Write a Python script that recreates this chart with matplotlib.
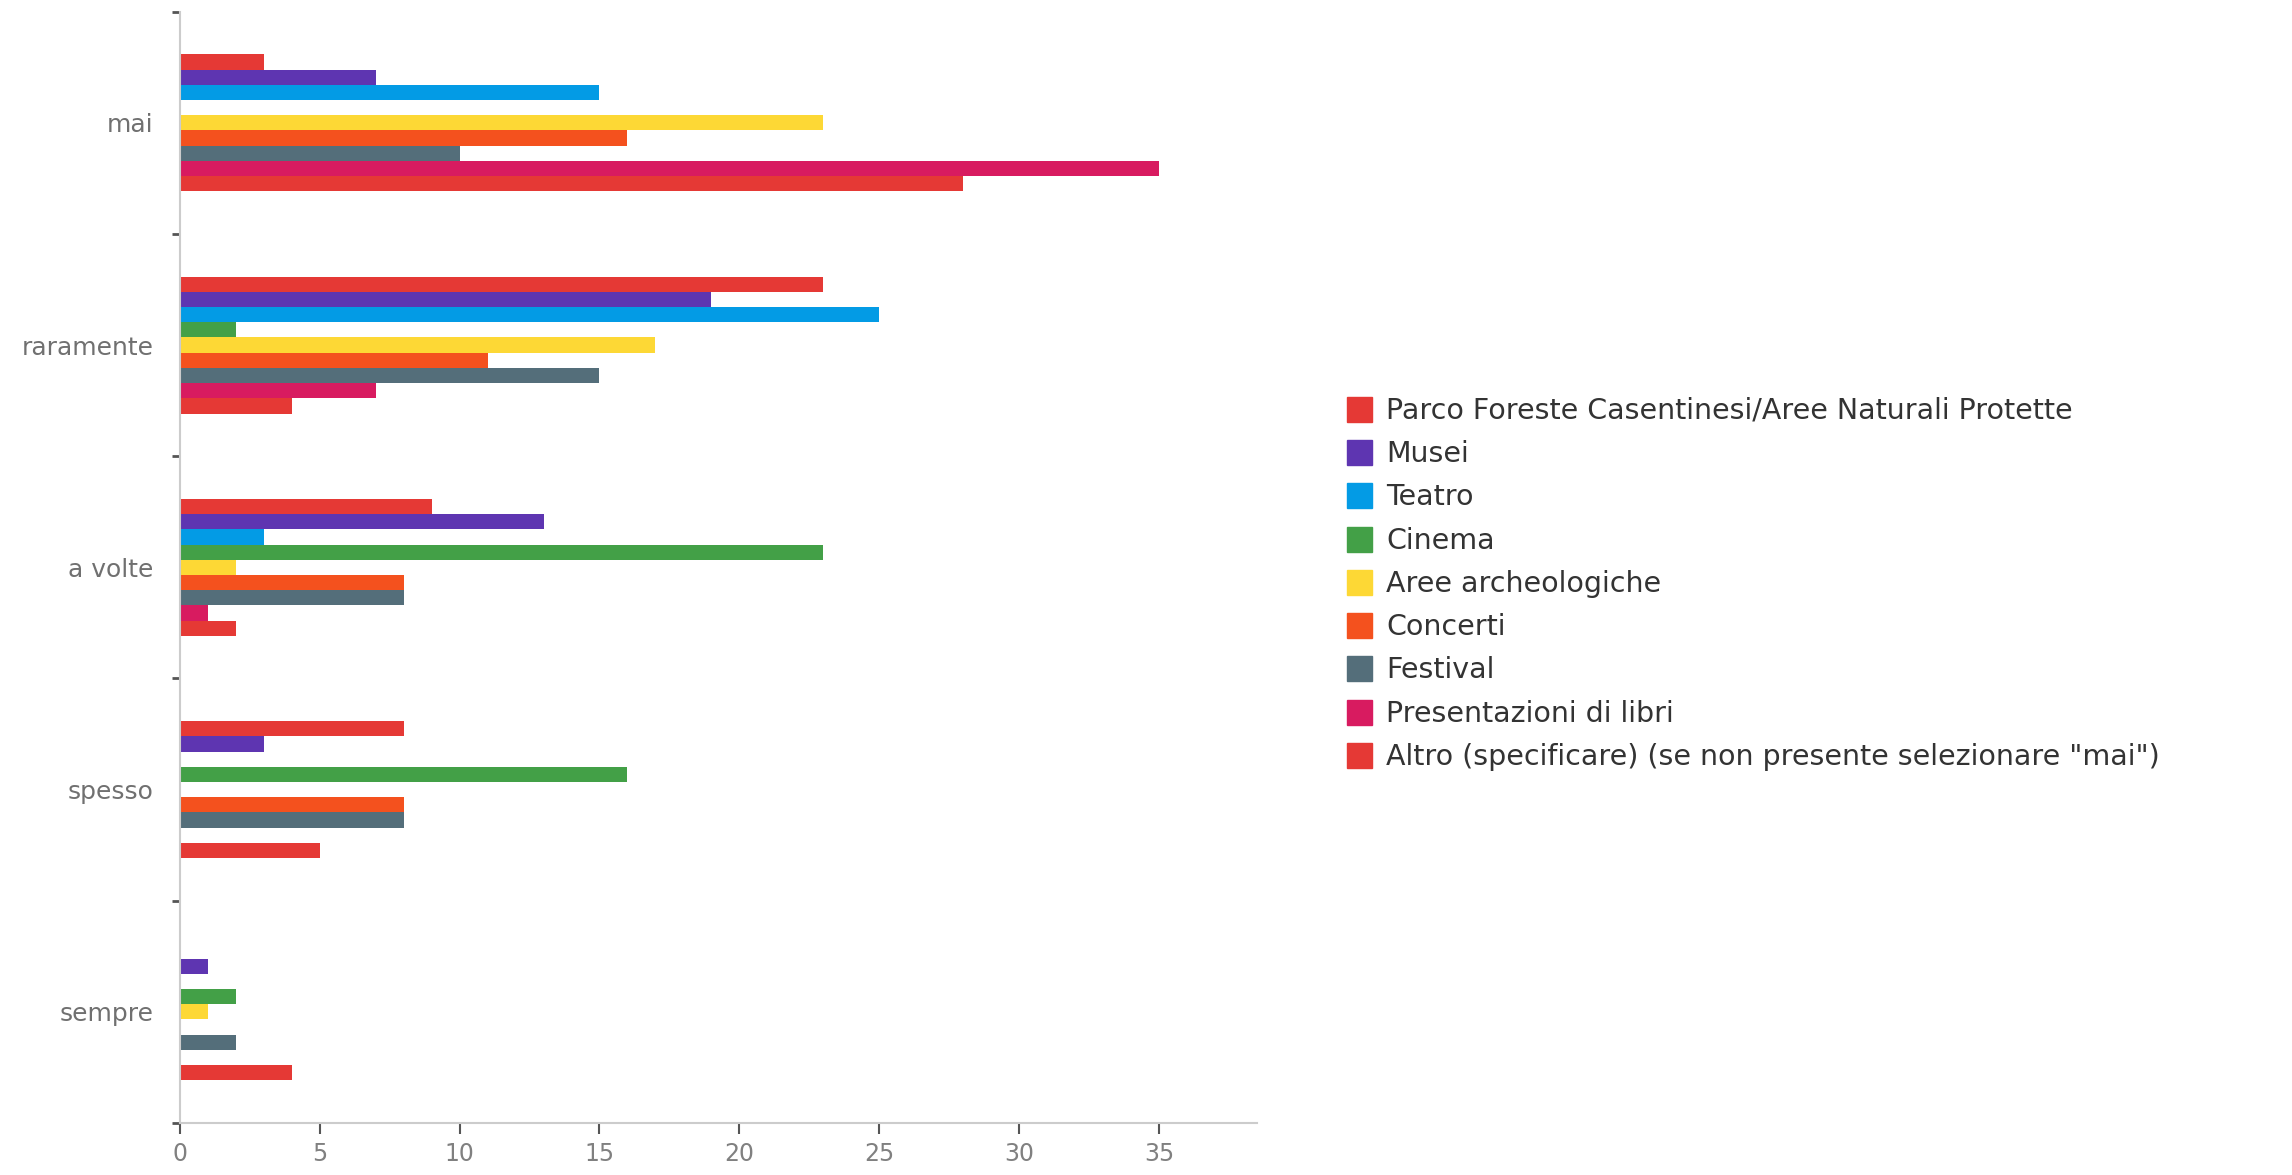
import matplotlib
matplotlib.use("Agg")
import matplotlib.pyplot as plt
import numpy as np
from matplotlib.lines import Line2D

categories = ["mai", "raramente", "a volte", "spesso", "sempre"]
series_names = [
    "Parco Foreste Casentinesi/Aree Naturali Protette",
    "Musei",
    "Teatro",
    "Cinema",
    "Aree archeologiche",
    "Concerti",
    "Festival",
    "Presentazioni di libri",
    "Altro (specificare) (se non presente selezionare \"mai\")",
]
parco = [3, 23, 9, 8, 0]
musei = [7, 19, 13, 3, 1]
teatro = [15, 25, 3, 0, 0]
cinema = [0, 2, 23, 16, 2]
aree = [23, 17, 2, 0, 1]
concerti = [16, 11, 8, 8, 0]
festival = [10, 15, 8, 8, 2]
presentazioni = [35, 7, 1, 0, 0]
altro = [28, 4, 2, 5, 4]
series_values = [parco, musei, teatro, cinema, aree, concerti, festival, presentazioni, altro]
x_ticks = [0, 5, 10, 15, 20, 25, 30, 35]

colors = ["#E53935", "#5E35B1", "#039BE5", "#43A047", "#FDD835",
          "#F4511E", "#546E7A", "#D81B60", "#E53935"]

plt.rcParams['font.family'] = ['DejaVu Sans']

fig = plt.figure(figsize=(22.92, 11.75), dpi=100)
ax = fig.add_axes([0.0784, 0.0443, 0.4701, 0.9457])

n = len(series_names)
bar_h = 0.0685
ypos = np.arange(len(categories))
for k, (vals, c) in enumerate(zip(series_values, colors)):
    offs = (k - (n - 1) / 2) * bar_h
    ax.barh(ypos + offs, vals, height=bar_h, color=c, linewidth=0)

ax.set_ylim(len(categories) - 0.5, -0.5)
ax.set_xlim(0, 38.5)
ax.set_yticks(ypos)
ax.set_yticklabels(categories)
ax.set_yticks(np.arange(-0.5, len(categories), 1.0), minor=True)
ax.tick_params(axis='y', which='major', length=0, pad=19, labelsize=18, labelcolor='#707070')
ax.tick_params(axis='y', which='minor', length=6, width=2, color='#555555', direction='out')
ax.set_xticks(x_ticks)
ax.tick_params(axis='x', which='major', length=8, width=1.5, color='#555555',
               labelsize=17, labelcolor='#808080', pad=6)

for s in ['top', 'right']:
    ax.spines[s].set_visible(False)
ax.spines['left'].set_color('#cccccc')
ax.spines['bottom'].set_color('#cccccc')
ax.spines['left'].set_linewidth(1.5)
ax.spines['bottom'].set_linewidth(1.5)

handles = [Line2D([0], [0], marker='s', linestyle='none', markersize=18,
                  markerfacecolor=c, markeredgecolor=c) for c in colors]
fig.legend(handles, series_names, loc='upper left', bbox_to_anchor=(0.5755, 0.684),
           frameon=False, fontsize=20.5, labelspacing=0.535, handletextpad=0.45,
           handlelength=1.0, labelcolor='#333333')

fig.savefig("out.png", dpi=100)
